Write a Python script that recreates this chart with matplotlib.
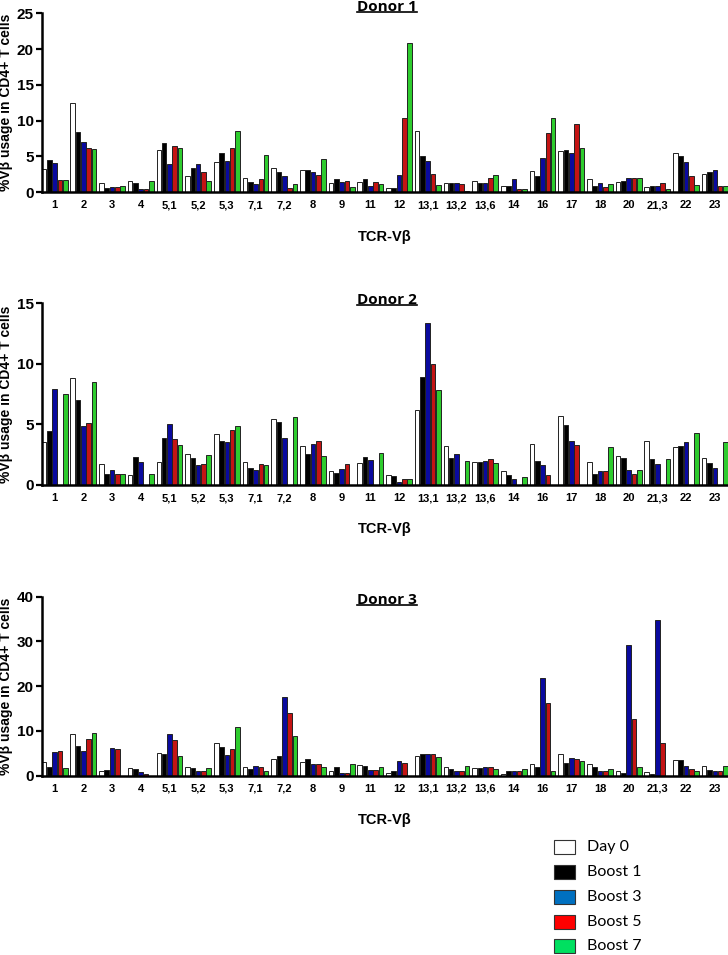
import matplotlib
matplotlib.use("Agg")
import matplotlib.pyplot as plt
from matplotlib.patches import Rectangle
from matplotlib.lines import Line2D
from matplotlib import font_manager
import numpy as np

categories = ["1", "2", "3", "4", "5,1", "5,2", "5,3", "7,1", "7,2", "8", "9", "11",
              "12", "13,1", "13,2", "13,6", "14", "16", "17", "18", "20", "21,3", "22", "23"]
series_names = ["Day 0", "Boost 1", "Boost 3", "Boost 5", "Boost 7"]

# Donor 1
d1_day0   = [3.2, 12.5, 1.2, 1.6, 5.9, 2.3, 4.2, 1.9, 3.3, 3.1, 1.2, 1.4, 0.5, 8.6, 1.2, 1.5, 0.8, 2.9, 5.8, 1.8, 1.4, 0.7, 5.4, 2.5]
d1_boost1 = [4.5, 8.4, 0.6, 1.2, 6.8, 3.3, 5.5, 1.4, 2.8, 3.1, 1.8, 1.8, 0.6, 5.1, 1.3, 1.2, 0.8, 2.3, 5.9, 0.9, 1.6, 0.8, 5.0, 2.8]
d1_boost3 = [4.1, 7.0, 0.7, 0.4, 3.9, 3.9, 4.4, 1.1, 2.2, 2.8, 1.4, 0.9, 2.4, 4.4, 1.3, 1.2, 1.8, 4.8, 5.4, 1.3, 2.0, 0.8, 4.2, 3.1]
d1_boost5 = [1.7, 6.2, 0.7, 0.4, 6.4, 2.8, 6.2, 1.8, 0.6, 2.4, 1.6, 1.4, 10.4, 2.5, 1.1, 2.0, 0.4, 8.3, 9.5, 0.7, 1.9, 1.3, 2.2, 0.9]
d1_boost7 = [1.7, 6.0, 0.9, 1.5, 6.2, 1.5, 8.5, 5.2, 1.1, 4.6, 0.7, 1.1, 20.8, 1.0, 0.1, 2.4, 0.4, 10.4, 6.2, 1.1, 2.0, 0.4, 1.0, 0.9]

# Donor 2
d2_day0   = [3.5, 8.8, 1.7, 0.8, 1.85, 2.5, 4.2, 1.85, 5.45, 3.2, 1.1, 1.8, 0.8, 6.2, 3.2, 1.9, 1.1, 3.4, 5.7, 1.9, 2.4, 3.6, 3.1, 2.2]
d2_boost1 = [4.4, 7.0, 0.9, 2.3, 3.9, 2.2, 3.6, 1.4, 5.2, 2.5, 1.0, 2.3, 0.7, 8.9, 2.2, 1.9, 0.8, 2.0, 4.9, 0.9, 2.2, 2.1, 3.2, 1.8]
d2_boost3 = [7.9, 4.85, 1.2, 1.9, 5.0, 1.6, 3.55, 1.2, 3.9, 3.4, 1.3, 2.05, 0.2, 13.4, 2.55, 1.95, 0.5, 1.6, 3.65, 1.1, 1.2, 1.7, 3.55, 1.4]
d2_boost5 = [0.0, 5.1, 0.9, 0.0, 3.75, 1.7, 4.55, 1.75, 0.0, 3.6, 1.7, 0.0, 0.5, 10.0, 0.0, 2.1, 0.0, 0.8, 3.25, 1.1, 0.9, 0.0, 0.0, 0.0]
d2_boost7 = [7.5, 8.5, 0.9, 0.9, 3.3, 2.45, 4.85, 1.6, 5.6, 2.4, 0.0, 2.6, 0.5, 7.8, 2.0, 1.8, 0.6, 0.0, 0.0, 3.1, 1.2, 2.1, 4.3, 3.55]

# Donor 3
d3_day0   = [3.1, 9.2, 0.9, 1.6, 5.0, 1.9, 7.2, 1.8, 3.6, 3.1, 1.1, 2.3, 0.6, 4.4, 1.9, 1.6, 0.4, 2.5, 4.7, 2.6, 1.1, 0.7, 3.4, 2.2]
d3_boost1 = [2.0, 6.7, 1.2, 1.4, 4.7, 1.6, 6.4, 1.5, 4.4, 3.6, 2.0, 2.2, 1.0, 4.9, 1.4, 1.6, 0.9, 1.8, 2.9, 2.0, 0.5, 0.4, 3.5, 1.3]
d3_boost3 = [5.2, 5.55, 6.2, 0.8, 9.2, 1.1, 4.5, 2.2, 17.5, 2.65, 0.5, 1.2, 3.3, 4.9, 0.9, 1.9, 0.9, 21.8, 3.85, 0.9, 29.1, 34.7, 2.2, 0.9]
d3_boost5 = [5.5, 8.2, 5.9, 0.3, 8.0, 1.1, 5.9, 1.9, 13.9, 2.5, 0.6, 1.2, 2.8, 4.8, 0.9, 1.8, 1.1, 16.3, 3.6, 1.1, 12.6, 7.2, 1.4, 0.9]
d3_boost7 = [1.6, 9.5, 0.0, 0.0, 4.35, 1.6, 10.8, 0.9, 8.8, 1.8, 2.5, 1.8, 0.0, 4.2, 2.2, 1.5, 1.4, 1.0, 3.3, 1.4, 2.0, 0.0, 1.1, 2.1]

donor_titles = ["Donor 1", "Donor 2", "Donor 3"]
donor_ymax = [25, 15, 40]
donor_ystep = [5, 5, 10]
donor_series = [
    [d1_day0, d1_boost1, d1_boost3, d1_boost5, d1_boost7],
    [d2_day0, d2_boost1, d2_boost3, d2_boost5, d2_boost7],
    [d3_day0, d3_boost1, d3_boost3, d3_boost5, d3_boost7],
]

bar_colors = ["#ffffff", "#000000", "#0a0a9e", "#c41414", "#2ecc2e"]
legend_colors = ["#ffffff", "#000000", "#0070c0", "#ff0000", "#00e060"]

installed = {f.name for f in font_manager.fontManager.ttflist}
narrow = "Liberation Sans Narrow" in installed
ylab_family = "Liberation Sans Narrow" if narrow else "Liberation Sans"
ylab_size = 12 if narrow else 10

W, H = 728, 955
fig = plt.figure(figsize=(W / 100, H / 100), dpi=100)

def rect(l, t, r, b):
    return [l / W, 1 - b / H, (r - l) / W, (b - t) / H]

panel_px = [(42, 13.3, 728, 192), (42, 303.3, 728, 484.7), (42, 596.7, 728, 775.5)]
title_y = [7, 300, 600]

step = 0.185
bw = 0.16
x = np.arange(len(categories))

titles = []
for p in range(3):
    ax = fig.add_axes(rect(*panel_px[p]))
    for k, vals in enumerate(donor_series[p]):
        ax.bar(x + (k - 2) * step, vals, width=bw, color=bar_colors[k],
               edgecolor="#222222", linewidth=0.7, zorder=2)
    ax.set_xlim(-0.44, 23.46)
    ax.set_ylim(0, donor_ymax[p])
    ax.set_yticks(np.arange(0, donor_ymax[p] + 1, donor_ystep[p]))
    ax.set_xticks(x)
    ax.set_xticklabels(categories, fontsize=8, family="Liberation Sans", weight="bold")
    ax.tick_params(axis="x", length=0, pad=6)
    ax.tick_params(axis="y", length=4, width=1.6, labelsize=11, pad=2)
    for lab in ax.get_yticklabels():
        lab.set_fontweight("bold")
        lab.set_family("Liberation Sans")
    for s in ["top", "right"]:
        ax.spines[s].set_visible(False)
    for s in ["left", "bottom"]:
        ax.spines[s].set_linewidth(1.8)
        ax.spines[s].set_zorder(3)
    ax.set_xlabel("TCR-V\u03b2", fontsize=10.5, labelpad=14, family="Liberation Sans", weight="bold")
    ax.set_ylabel("%V\u03b2 usage in CD4+ T cells", fontsize=ylab_size, family=ylab_family, weight="bold")
    ax.yaxis.set_label_coords(-29 / 686, 0.5)
    t = fig.text(387 / W, 1 - title_y[p] / H, donor_titles[p], ha="center", va="center",
                 fontsize=11, fontweight="bold", family="Open Sans")
    titles.append(t)

fig.canvas.draw()
renderer = fig.canvas.get_renderer()
for t in titles:
    bb = t.get_window_extent(renderer)
    yline = (bb.y0 + 1.5) / H
    fig.add_artist(Line2D([bb.x0 / W, bb.x1 / W], [yline, yline], color="black", lw=1.2))

# legend
leg_y = [847, 872, 897, 922, 946]
for i, name in enumerate(series_names):
    yc = leg_y[i]
    fig.add_artist(Rectangle((554 / W, 1 - (yc + 7) / H), 21 / W, 14 / H,
                             facecolor=legend_colors[i], edgecolor="#333333", lw=0.8,
                             transform=fig.transFigure))
    fig.text(587 / W, 1 - yc / H, name, ha="left", va="center", fontsize=11.5, family="Lato")

fig.savefig("out.png", dpi=100)
